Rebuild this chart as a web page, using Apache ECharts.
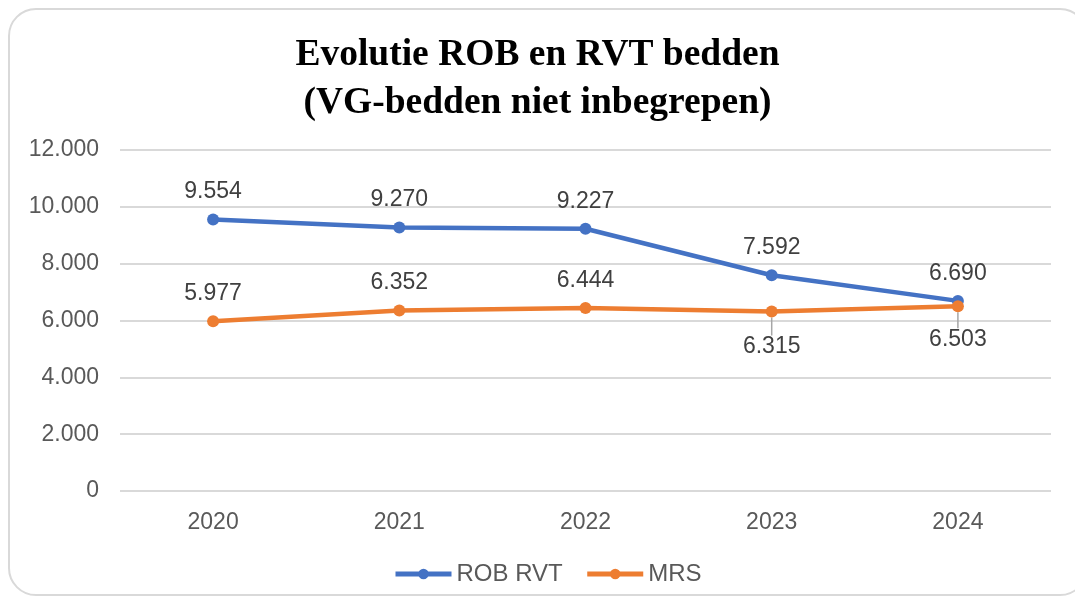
<!DOCTYPE html>
<html>
<head>
<meta charset="utf-8">
<script src="https://cdn.jsdelivr.net/npm/echarts@6/dist/echarts.min.js"></script>
<style>
  html, body { margin: 0; padding: 0; background: #fff; overflow: hidden; }
  #frame {
    position: absolute; left: 8px; top: 8px;
    width: 1080px; height: 588px;
    border: 2px solid #d9d9d9; border-radius: 28px;
    box-sizing: border-box;
  }
  #chart { position: absolute; left: 0; top: 0; width: 1075px; height: 602px; }
</style>
</head>
<body>
<div id="frame"></div>
<div id="chart"></div>
<script>
var years = ['2020', '2021', '2022', '2023', '2024'];
var robRvt = [9554, 9270, 9227, 7592, 6690];
var mrs = [5977, 6352, 6444, 6315, 6503];
var yTicks = [0, 2000, 4000, 6000, 8000, 10000, 12000];
// MRS labels that Excel pushed under the line
var mrsBelow = [3, 4];

// Dutch style thousands separator
function fmt(v) {
  return v >= 1000 ? Math.floor(v / 1000) + '.' + String(v % 1000).padStart(3, '0') : String(v);
}

var myChart = echarts.init(document.getElementById('chart'));
myChart.setOption({
  color: ['#4472C4', '#ED7D31'],
  title: {
    text: 'Evolutie ROB en RVT bedden\n(VG-bedden niet inbegrepen)',
    left: 'center',
    top: 26,
    textStyle: {
      fontFamily: 'Liberation Serif',
      fontWeight: 'bold',
      fontSize: 37.5,
      lineHeight: 48,
      color: '#000'
    }
  },
  grid: { left: 120, right: 24, top: 150, bottom: 111 },
  legend: {
    bottom: 11,
    left: 388,
    itemWidth: 56,
    itemHeight: 13,
    itemGap: 22,
    lineStyle: { width: 5 },
    textStyle: { fontFamily: 'Liberation Sans', fontSize: 24, color: '#595959' },
    data: ['ROB RVT', 'MRS']
  },
  xAxis: {
    type: 'category',
    data: years,
    boundaryGap: true,
    axisLine: { show: false },
    axisTick: { show: false },
    axisLabel: { fontFamily: 'Liberation Sans', fontSize: 23, color: '#595959', margin: 20 }
  },
  yAxis: {
    type: 'value',
    min: yTicks[0],
    max: yTicks[yTicks.length - 1],
    interval: 2000,
    axisLine: { show: false },
    axisTick: { show: false },
    axisLabel: {
      fontFamily: 'Liberation Sans', fontSize: 23, color: '#595959', margin: 21,
      formatter: fmt
    },
    splitLine: { lineStyle: { color: '#d9d9d9', width: 2 } }
  },
  series: [
    {
      name: 'ROB RVT',
      type: 'line',
      data: robRvt,
      symbol: 'circle',
      symbolSize: 12,
      lineStyle: { width: 4.5 },
      label: {
        show: true, position: 'top', distance: 10,
        fontFamily: 'Liberation Sans', fontSize: 23, color: '#404040',
        formatter: function (p) { return fmt(p.value); }
      }
    },
    {
      name: 'MRS',
      type: 'line',
      data: mrs.map(function (v, i) {
        return mrsBelow.indexOf(i) >= 0
          ? { value: v, labelLine: { show: true, lineStyle: { color: '#a6a6a6', width: 1.5 } } }
          : v;
      }),
      symbol: 'circle',
      symbolSize: 12,
      lineStyle: { width: 4.5 },
      label: {
        show: true, position: 'top', distance: 10,
        fontFamily: 'Liberation Sans', fontSize: 23, color: '#404040',
        formatter: function (p) { return fmt(p.value); }
      },
      labelLayout: function (p) {
        if (p.dataIndex === 3) return { dy: 63 };
        if (p.dataIndex === 4) return { dy: 61 };
        return {};
      }
    }
  ]
});
</script>
</body>
</html>
